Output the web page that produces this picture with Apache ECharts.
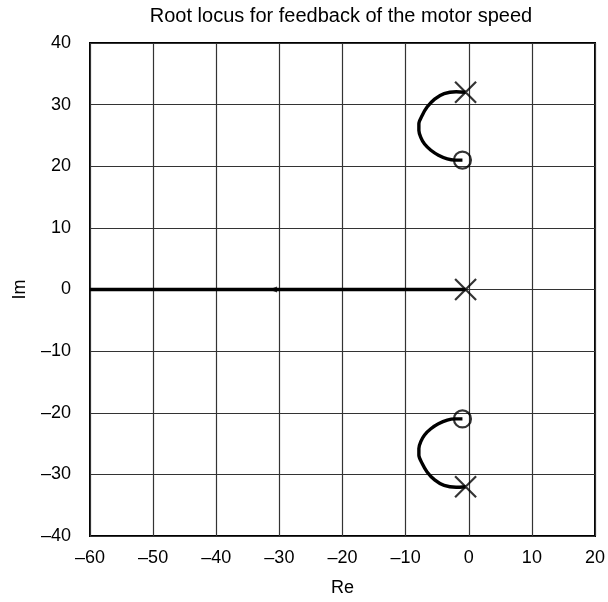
<!DOCTYPE html>
<html>
<head>
<meta charset="utf-8">
<script src="https://cdn.jsdelivr.net/npm/echarts@6/dist/echarts.min.js"></script>
<style>
  html, body { margin: 0; padding: 0; background: #fff; }
  #chart { width: 608px; height: 602px; }
</style>
</head>
<body>
<div id="chart"></div>
<script>
// branches of the root locus (Re, Im)
const upperBranch = [
  [-0.5, 32], [-2, 32.1], [-3.9, 31.8], [-5.4, 30.9], [-6.6, 29.6], [-7.4, 28.2],
  [-7.9, 26.9], [-7.9, 25.8], [-7.6, 24.7], [-7, 23.6], [-6, 22.6], [-4.8, 21.8],
  [-3.4, 21.2], [-2.2, 21], [-1, 21]
];
const lowerBranch = upperBranch.map(p => [p[0], -p[1]]);
const realBranch = [[-0.5, 0], [-60, 0]];

const poles = [[-0.5, 32], [-0.5, 0], [-0.5, -32]];
const zeros = [[-1, 21], [-1, -21]];
const arrows = [[-31, 0]];

const crossPath = 'path://M0,0 L10,10 M10,0 L0,10';

const chart = echarts.init(document.getElementById('chart'));

const dash = v => String(v).replace('-', '\u2013');
const FONT = 'Liberation Sans';

function branch(data) {
  return {
    type: 'line',
    data: data,
    smooth: 0.3,
    showSymbol: false,
    silent: true,
    lineStyle: { color: '#000', width: 3.4 },
    z: 5
  };
}

chart.setOption({
  animation: false,
  grid: {
    left: 90, right: 13, top: 43, bottom: 66, show: true,
    borderColor: '#000', borderWidth: 2, outerBoundsMode: 'none'
  },
  graphic: [{
    type: 'text',
    x: 341, y: 16,
    style: {
      text: 'Root locus for feedback of the motor speed',
      font: '20px "Liberation Sans", Arial, sans-serif',
      fill: '#000',
      align: 'center',
      verticalAlign: 'middle'
    }
  }],
  xAxis: {
    type: 'value', min: -60, max: 20, interval: 10,
    name: 'Re', nameLocation: 'middle', nameGap: 43,
    nameTextStyle: { fontSize: 18, color: '#000', fontFamily: FONT },
    axisLine: { show: false },
    axisTick: { show: false },
    axisLabel: { margin: 13, fontSize: 18, color: '#000', fontFamily: FONT, formatter: dash },
    splitLine: { show: true, lineStyle: { color: '#333', width: 1.2 } }
  },
  yAxis: {
    type: 'value', min: -40, max: 40, interval: 10,
    name: 'Im', nameLocation: 'middle', nameGap: 61,
    nameTextStyle: { fontSize: 18, color: '#000', fontFamily: FONT },
    axisLine: { show: false },
    axisTick: { show: false },
    axisLabel: { margin: 19, fontSize: 18, color: '#000', fontFamily: FONT, formatter: dash },
    splitLine: { show: true, lineStyle: { color: '#333', width: 1.2 } }
  },
  series: [
    branch(upperBranch),
    branch(lowerBranch),
    Object.assign(branch(realBranch), { smooth: false }),
    {
      type: 'scatter', data: poles, symbol: crossPath, symbolSize: 21, silent: true,
      itemStyle: { color: 'none', borderColor: '#000', borderWidth: 2.2 }, z: 6
    },
    {
      type: 'scatter', data: zeros, symbol: 'circle', symbolSize: 17, silent: true,
      itemStyle: { color: 'rgba(255,255,255,0)', borderColor: '#000', borderWidth: 2.2 }, z: 6
    },
    {
      type: 'scatter', data: arrows, symbol: 'triangle', symbolSize: [6, 8], symbolRotate: 90, silent: true,
      itemStyle: { color: '#000' }, z: 6
    }
  ]
});
</script>
</body>
</html>
